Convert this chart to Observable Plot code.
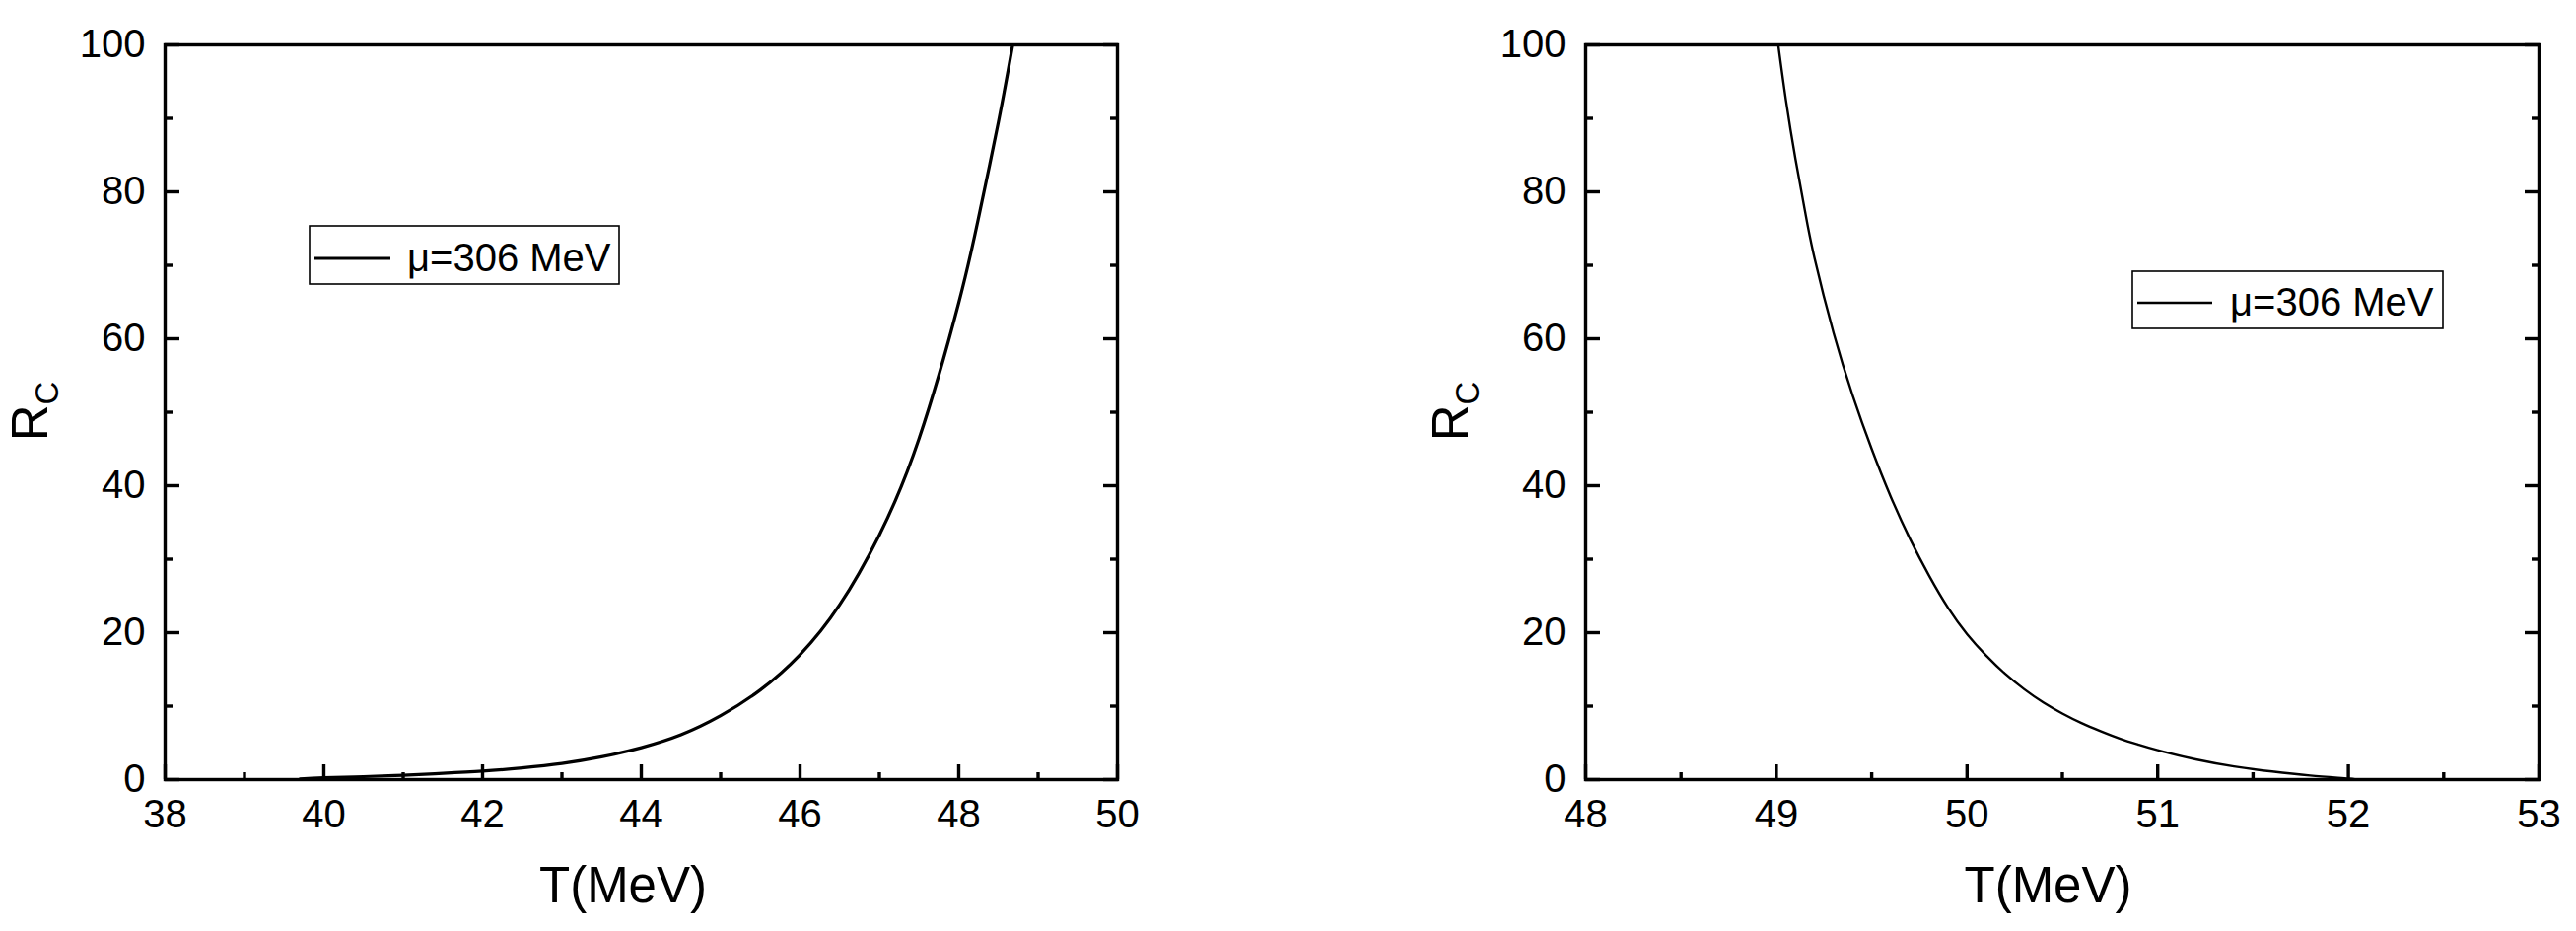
<!DOCTYPE html>
<html><head><meta charset="utf-8">
<script src="https://cdn.jsdelivr.net/npm/d3@7"></script>
<script src="https://cdn.jsdelivr.net/npm/@observablehq/plot@0.6"></script>
<style>
html,body{margin:0;padding:0;background:#fff;}
#wrap{position:relative;width:2613px;height:944px;overflow:hidden;background:#fff;}
#wrap svg{position:absolute;top:0;}
</style></head><body><div id="wrap"></div>
<script>
// ---- data ----
const leftT = [39.7, 40, 40.5, 41, 41.5, 42, 42.5, 43, 43.5, 44, 44.5, 45, 45.5, 46, 46.5, 47, 47.5, 48, 48.25, 48.5, 48.68];
const leftR = [0.1, 0.25, 0.4, 0.6, 0.85, 1.15, 1.6, 2.2, 3.1, 4.35, 6.1, 8.7, 12.2, 17.0, 23.8, 33.3, 46.4, 64.9, 76.5, 89.5, 100];
const rightT = [49.01, 49.05, 49.1, 49.15, 49.2, 49.3, 49.4, 49.5, 49.6, 49.7, 49.8, 49.9, 50.0, 50.1, 50.2, 50.3, 50.4, 50.5, 50.6, 50.7, 50.8, 50.9, 51.0, 51.2, 51.4, 51.6, 51.8, 52.0, 52.05];
const rightR = [100, 92.5, 84.5, 77.4, 71.0, 60.8, 52.3, 45.0, 38.5, 32.8, 27.8, 23.4, 19.8, 16.9, 14.4, 12.3, 10.5, 9.0, 7.7, 6.6, 5.6, 4.75, 4.0, 2.75, 1.8, 1.1, 0.55, 0.15, 0];
const leftMajorX = [38, 40, 42, 44, 46, 48, 50];
const leftMinorX = [39, 41, 43, 45, 47, 49];
const rightMajorX = [48, 49, 50, 51, 52, 53];
const rightMinorX = [48.5, 49.5, 50.5, 51.5, 52.5];
const majorY = [0, 20, 40, 60, 80, 100];
const minorY = [10, 30, 50, 70, 90];
const legendLabel = "μ=306 MeV";
const xLabel = "T(MeV)";
const yLabelMain = "R";
const yLabelSub = "C";

const FONT = "'Liberation Sans', Arial, Helvetica, sans-serif";
const FW = 3.4; // frame width
const fmt = d3.format("d");

function panel(cfg) {
  const data = cfg.T.map((t, i) => ({T: t, R: cfg.R[i]}));
  const H = 944, mT = 45, mB = 154;
  const svg = Plot.plot({
    width: cfg.width, height: H,
    marginTop: mT, marginBottom: mB, marginLeft: cfg.mL, marginRight: cfg.mR,
    x: {domain: cfg.xDomain},
    y: {domain: [0, 100]},
    style: {fontFamily: FONT, fontSize: "40px", color: "#000", background: "#fff"},
    marks: [
      Plot.line(data, {x: "T", y: "R", stroke: "#000", strokeWidth: cfg.lineW, curve: "natural", clip: true}),
      Plot.axisX(cfg.majorX, {anchor: "bottom", tickSize: -15, strokeWidth: FW, fill: "none", label: null}),
      Plot.axisX(cfg.minorX, {anchor: "bottom", tickSize: -7, strokeWidth: FW, fill: "none", label: null}),
      Plot.axisX(cfg.majorX, {anchor: "bottom", tickSize: 0, tickPadding: 20, fontSize: 40, tickFormat: fmt, label: null}),
      Plot.axisY(majorY, {anchor: "left", tickSize: -15, strokeWidth: FW, fill: "none", label: null}),
      Plot.axisY(minorY, {anchor: "left", tickSize: -8, strokeWidth: FW, fill: "none", label: null}),
      Plot.axisY(majorY, {anchor: "right", tickSize: -15, strokeWidth: FW, fill: "none", label: null}),
      Plot.axisY(minorY, {anchor: "right", tickSize: -8, strokeWidth: FW, fill: "none", label: null}),
      Plot.axisY(majorY, {anchor: "left", tickSize: 0, tickPadding: 20, fontSize: 40, tickFormat: fmt, label: null}),
      Plot.frame({stroke: "#000", strokeWidth: FW})
    ]
  });
  svg.style.left = cfg.left + "px";
  const s = d3.select(svg);
  const plotL = cfg.mL, plotR = cfg.width - cfg.mR;
  // x title
  s.append("text").attr("x", (plotL + plotR) / 2 + cfg.xTitleShift).attr("y", 915)
    .attr("text-anchor", "middle").attr("fill", "#000")
    .style("font-family", FONT).style("font-size", "51px").text(xLabel);
  // y title with subscript
  const yt = s.append("text").attr("transform", `translate(${plotL - 119},417) rotate(-90)`)
    .attr("text-anchor", "middle").attr("fill", "#000")
    .style("font-family", FONT).style("font-size", "51px");
  yt.append("tspan").text(yLabelMain);
  yt.append("tspan").attr("dy", 11).style("font-size", "33px").text(yLabelSub);
  // legend
  const L = cfg.legend;
  s.append("rect").attr("x", L.x).attr("y", L.y).attr("width", L.w).attr("height", L.h)
    .attr("fill", "#fff").attr("stroke", "#000").attr("stroke-width", 1.6);
  s.append("line").attr("x1", L.x + 5).attr("x2", L.x + 5 + L.lineLen).attr("y1", L.y + L.lineDy).attr("y2", L.y + L.lineDy)
    .attr("stroke", "#000").attr("stroke-width", cfg.lineW);
  s.append("text").attr("x", L.tx).attr("y", L.ty).attr("fill", "#000").attr("text-anchor", "start")
    .style("font-family", FONT).style("font-size", "40px").text(legendLabel);
  document.getElementById("wrap").appendChild(svg);
}

panel({
  T: leftT, R: leftR, xDomain: [38, 50], majorX: leftMajorX, minorX: leftMinorX,
  left: 0, width: 1306, mL: 167, mR: 173, lineW: 3.2, xTitleShift: -18,
  legend: {x: 314, y: 229, w: 314, h: 59, lineLen: 77, lineDy: 33, tx: 413, ty: 275}
});
panel({
  T: rightT, R: rightR, xDomain: [48, 53], majorX: rightMajorX, minorX: rightMinorX,
  left: 1306, width: 1307, mL: 302, mR: 38, lineW: 2.4, xTitleShift: -14,
  legend: {x: 857, y: 275, w: 315, h: 58, lineLen: 76, lineDy: 32, tx: 956, ty: 320}
});
</script></body></html>
